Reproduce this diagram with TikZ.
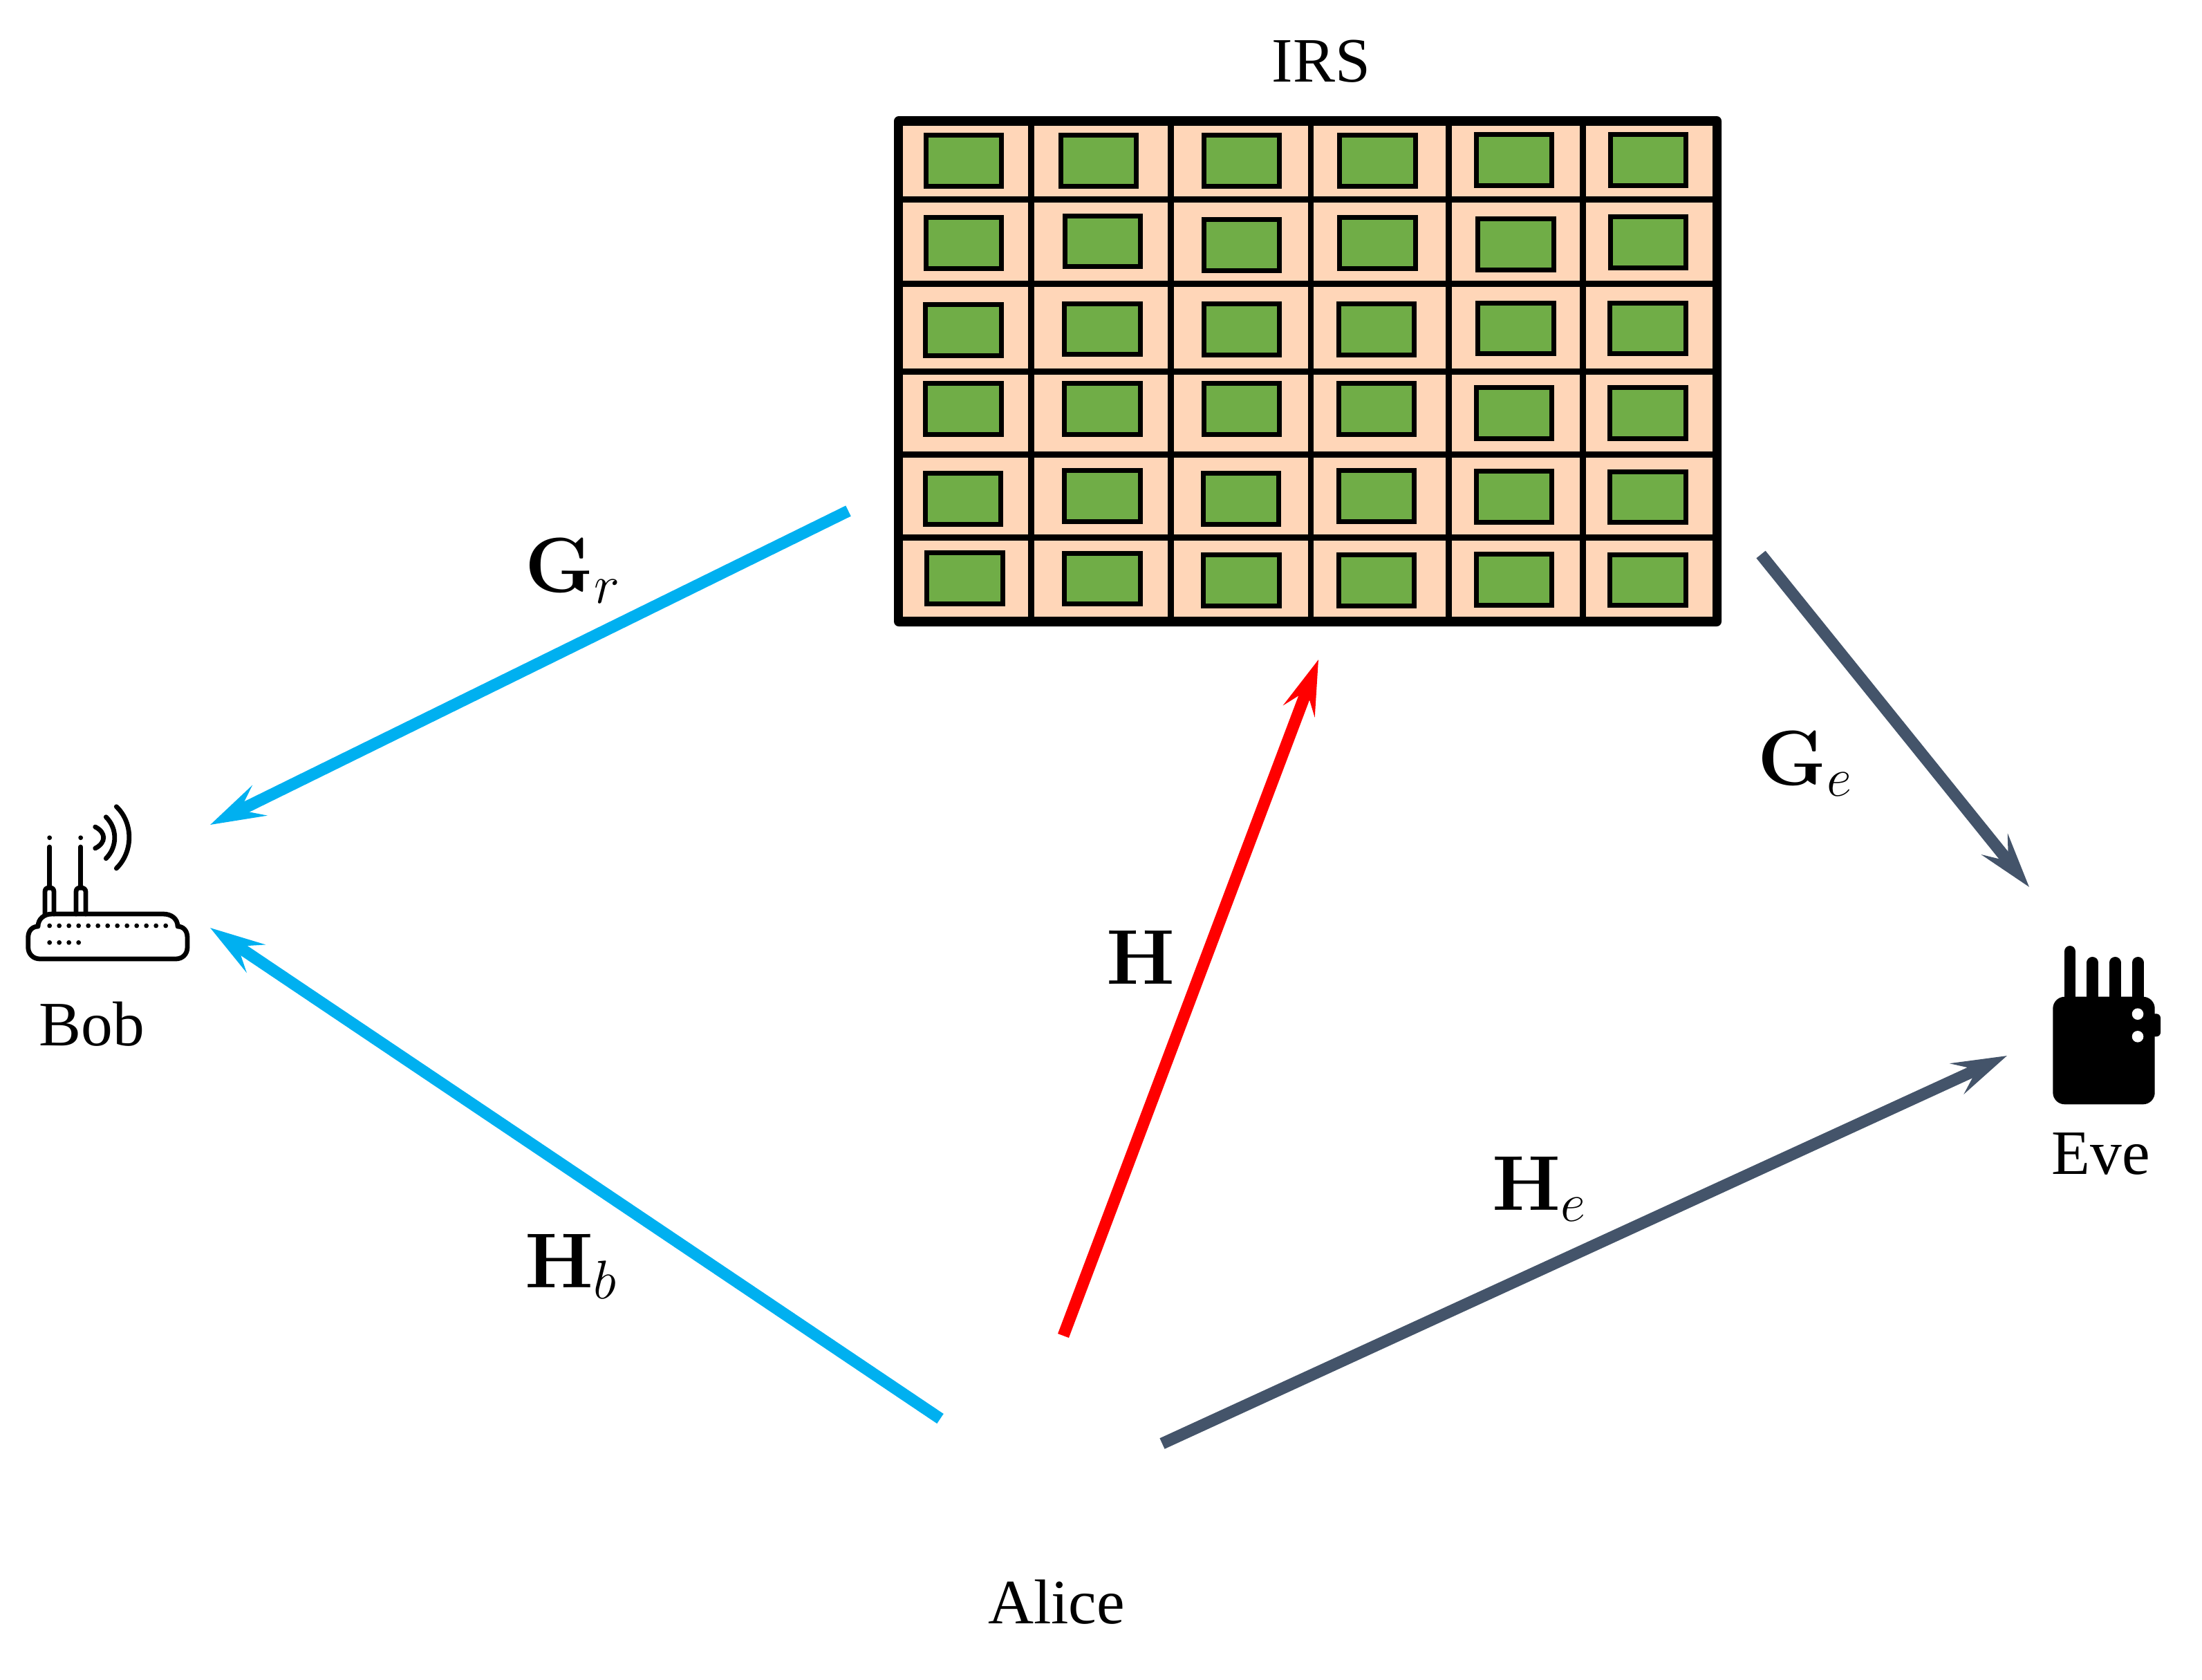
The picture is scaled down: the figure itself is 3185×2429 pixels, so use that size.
\RequirePackage{fix-cm}
\documentclass[tikz,border=0pt]{standalone}
\usepackage[no-math]{fontspec}
\usetikzlibrary{arrows.meta}
\newfontfamily\tnr{Liberation Serif}
\definecolor{peach}{HTML}{FFD6B8}
\definecolor{cellgreen}{HTML}{70AD47}
\definecolor{linkblue}{HTML}{00B0F0}
\definecolor{linkdark}{HTML}{44546A}
\definecolor{linkred}{HTML}{FF0000}
\tikzset{
  x=0.01cm,y=-0.01cm,
  link/.style={line width=0.17cm,-{Stealth[length=0.79cm,width=0.48cm,inset=0.31cm]}},
  namelabel/.style={inner sep=0pt,anchor=base,font=\fontsize{26}{30}\selectfont\tnr},
  chanlabel/.style={inner sep=0pt,anchor=base west,font=\fontsize{32}{38}\selectfont},
  cell/.style={draw=black,fill=cellgreen,line width=0.07cm},
  grid line/.style={fill=black},
  icon line/.style={draw=black,line width=0.068cm,line cap=round,line join=round},
}
\begin{document}
\begin{tikzpicture}
\useasboundingbox (0,0) rectangle (3185,2429);
% IRS panel
\fill[black,rounded corners=0.07cm] (1293,168) rectangle (2490,906);
\fill[peach] (1306,181.7) rectangle (2476.7,892);
\foreach \xa/\xb in {1487.3/1496,1689/1697.7,1891.8/1900.4,2091.4/2099.8,2285/2293.7}
  \fill[grid line] (\xa,175) rectangle (\xb,900);
\foreach \ya/\yb in {284.3/293,406.3/415,533/542,653/662,773/782}
  \fill[grid line] (1299,\ya) rectangle (2484,\yb);
\foreach \l/\t/\r/\b in {
 1336/192/1452/273,1531/192/1647/273,1738/192/1854/273,1934/192/2051/273,2132/191/2248/272,2326/191/2442/272,
 1336/311/1452/392,1537/309/1653/389,1738/314/1854/395,1934/311/2051/392,2134/313/2251/394,2326/310/2442/391,
 1335/437/1452/518,1536/436/1653/516,1738/436/1854/517,1933/436/2049/517,2134/435/2251/515,2325/435/2442/515,
 1335/551/1452/632,1536/551/1653/632,1738/551/1854/632,1933/551/2049/632,2132/557/2248/638,2325/557/2442/638,
 1335/681/1451/762,1536/677/1653/758,1737/681/1853/762,1933/677/2049/758,2132/678/2248/759,2325/679/2442/759,
 1337/796/1454/877,1536/797/1653/877,1737/799/1854/880,1933/799/2049/880,2132/798/2248/879,2325/799/2442/879}
  \draw[cell] (\l+3.5,\t+3.5) rectangle (\r-3.5,\b-3.5);
% Names
\node[namelabel] (irs) at (1911,118) {IRS};
\node[namelabel] (bob) at (133,1512) {Bob};
\node[namelabel] (eve) at (3039,1698) {Eve};
\node[namelabel] (alice) at (1528,2348) {Alice};
% Link end points
\coordinate (irsW) at (1227,739);
\coordinate (bobN) at (304,1193);
\coordinate (bobS) at (304,1342);
\coordinate (aliceW) at (1360,2052);
\coordinate (aliceN) at (1538,1932);
\coordinate (aliceE) at (1681,2088);
\coordinate (irsS) at (1907,954);
\coordinate (irsE) at (2547,802);
\coordinate (eveN) at (2935,1283);
\coordinate (eveW) at (2903,1527);
% Links
\draw[link,linkblue] (irsW) -- (bobN);
\draw[link,linkblue] (aliceW) -- (bobS);
\draw[link,linkred] (aliceN) -- (irsS);
\draw[link,linkdark] (irsE) -- (eveN);
\draw[link,linkdark] (aliceE) -- (eveW);
% Channel labels
\node[chanlabel] (gr) at (759,856) {$\mathbf{G}_r$};
\node[chanlabel] (hb) at (759,1862) {$\mathbf{H}_b$};
\node[chanlabel] (h) at (1600,1423) {$\mathbf{H}$};
\node[chanlabel] (he) at (2158,1750) {$\mathbf{H}_e$};
\node[chanlabel] (ge) at (2542,1135) {$\mathbf{G}_e$};
% Router icon
\draw[icon line] (40.7,1370) -- (40.7,1356) .. controls (40.7,1346) and (47,1340) .. (55,1340)
  .. controls (55,1329) and (64,1322) .. (75,1322) -- (236,1322)
  .. controls (248,1322) and (257,1329) .. (257,1340)
  .. controls (265,1340) and (271,1346) .. (271,1356) -- (271,1370)
  .. controls (271,1380) and (264,1387) .. (254,1387) -- (58,1387)
  .. controls (48,1387) and (40.7,1380) .. (40.7,1370) -- cycle;
\draw[icon line] (65,1322) -- (65,1290) .. controls (65,1286) and (67,1284) .. (71.7,1284) .. controls (76,1284) and (78,1286) .. (78,1290) -- (78,1322);
\draw[icon line] (110,1322) -- (110,1290) .. controls (110,1286) and (112,1284) .. (116.7,1284) .. controls (121,1284) and (124,1286) .. (124,1290) -- (124,1322);
\draw[icon line] (71.7,1225) -- (71.7,1284);
\draw[icon line] (116.7,1225) -- (116.7,1284);
\fill (71.7,1211.7) circle[radius=0.034cm];
\fill (116.7,1211.7) circle[radius=0.034cm];
\foreach \k in {0,...,12} \fill (71.7+14*\k,1339) circle[radius=0.034cm];
\foreach \k in {0,...,3} \fill (71.7+14*\k,1363.3) circle[radius=0.034cm];
\draw[icon line] (137.7,1196) .. controls (153.7,1204) and (153.7,1219) .. (137.7,1227);
\draw[icon line] (153.3,1181.7) .. controls (170,1198) and (170,1225) .. (153.3,1241.7);
\draw[icon line] (168.3,1166.7) .. controls (193,1190) and (193,1232) .. (168.3,1256);
% Eve icon
\fill[black,rounded corners=0.06cm] (3110,1466.3) rectangle (3125,1499.3);
\fill[black,rounded corners=0.17cm] (2969.3,1441.7) rectangle (3116.7,1597.3);
\foreach \xa/\top in {2994/1368,3026.7/1384,3059.2/1384,3092.2/1384}
  \draw[line width=0.166cm,line cap=round] (\xa,\top+8.3) -- (\xa,1450);
\fill[white] (3092,1466.7) circle[radius=0.083cm];
\fill[white] (3092,1499.3) circle[radius=0.083cm];
\end{tikzpicture}
\end{document}
